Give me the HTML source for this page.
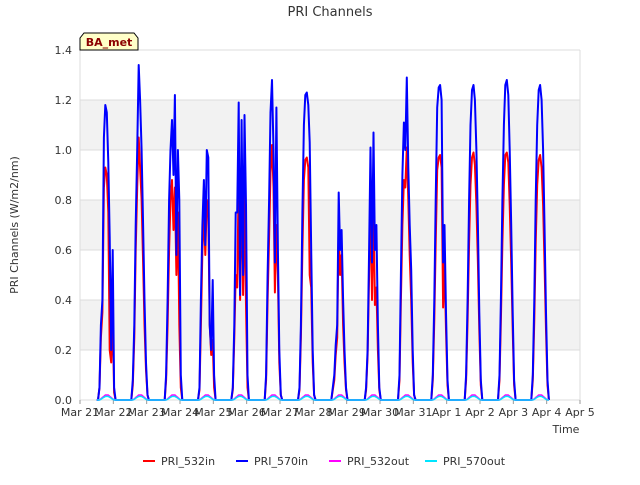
<!DOCTYPE html>
<html><head><meta charset="utf-8"><style>
body{margin:0;background:#fff;font-family:"Liberation Sans","DejaVu Sans",sans-serif}
</style></head><body>
<svg id="chart" width="640" height="480" xmlns="http://www.w3.org/2000/svg" font-family="DejaVu Sans, Liberation Sans, sans-serif">
<text x="330" y="16" text-anchor="middle" font-size="13" fill="#333">PRI Channels</text>
<g id="plot"></g>
<text transform="translate(18,225) rotate(-90)" text-anchor="middle" font-size="11" fill="#333">PRI Channels (W/m2/nm)</text>
<text x="566" y="433" text-anchor="middle" font-size="11" fill="#333">Time</text>
<g>
<path d="M80,50 L80,38 L84,33 L134,33 L138,38 L138,50 Z" fill="#ffffc8" stroke="#000" stroke-width="1"/>
<text x="109" y="46" text-anchor="middle" font-size="11" font-weight="bold" fill="#8b0000">BA_met</text>
</g>
<g id="legend"></g>
</svg>
<script>
const tickLabels=["Mar 21","Mar 22","Mar 23","Mar 24","Mar 25","Mar 26","Mar 27","Mar 28","Mar 29","Mar 30","Mar 31","Apr 1","Apr 2","Apr 3","Apr 4","Apr 5"];
const yTicks=[0,0.2,0.4,0.6,0.8,1.0,1.2,1.4];
const blueDays=[
[0,0.05,0.3,0.4,1.05,1.18,1.15,0.95,0.65,0.2,0.6,0.05,0],
[0,0.08,0.3,0.7,1.0,1.34,1.2,1.0,0.7,0.4,0.15,0.02,0],
[0,0.1,0.4,0.8,1.0,1.12,0.9,1.22,0.58,1.0,0.8,0.1,0],
[0,0.05,0.4,0.7,0.88,0.62,1.0,0.97,0.3,0.2,0.48,0.1,0],
[0,0.05,0.3,0.75,0.75,1.19,0.42,1.12,0.5,1.14,0.78,0.1,0],
[0,0.1,0.5,0.8,1.15,1.28,1.0,0.55,1.17,0.6,0.2,0.02,0],
[0,0.05,0.3,0.75,1.1,1.22,1.23,1.18,1.03,0.6,0.2,0.02,0],
[0,0.05,0.1,0.22,0.3,0.83,0.6,0.68,0.4,0.2,0.05,0,0],
[0,0.05,0.2,0.6,1.01,0.55,1.07,0.6,0.7,0.3,0.05,0,0],
[0,0.1,0.5,0.9,1.11,1.0,1.29,0.93,0.7,0.52,0.2,0.02,0],
[0,0.1,0.4,0.8,1.17,1.25,1.26,1.2,0.55,0.7,0.35,0.08,0],
[0,0.1,0.4,0.8,1.1,1.24,1.26,1.2,1.0,0.7,0.35,0.08,0],
[0,0.1,0.4,0.8,1.1,1.26,1.28,1.22,1.0,0.7,0.35,0.08,0],
[0,0.1,0.4,0.8,1.1,1.24,1.26,1.2,1.0,0.7,0.35,0.08,0]];
const redDays=[
[0,0.05,0.25,0.35,0.85,0.93,0.9,0.75,0.2,0.15,0.35,0.03,0],
[0,0.06,0.25,0.6,0.85,1.05,0.93,0.8,0.55,0.3,0.12,0.02,0],
[0,0.08,0.3,0.6,0.8,0.88,0.68,0.85,0.5,0.75,0.3,0.05,0],
[0,0.04,0.3,0.6,0.75,0.58,0.8,0.75,0.3,0.18,0.24,0.05,0],
[0,0.04,0.25,0.5,0.45,0.88,0.4,0.9,0.42,0.85,0.38,0.05,0],
[0,0.08,0.4,0.65,0.91,1.02,0.85,0.43,0.7,0.5,0.15,0.02,0],
[0,0.04,0.25,0.6,0.88,0.96,0.97,0.93,0.5,0.45,0.15,0.02,0],
[0,0.04,0.08,0.18,0.25,0.7,0.5,0.58,0.3,0.15,0.04,0,0],
[0,0.04,0.18,0.5,0.8,0.4,0.8,0.38,0.45,0.2,0.04,0,0],
[0,0.08,0.4,0.7,0.88,0.85,1.01,0.8,0.58,0.4,0.15,0.02,0],
[0,0.08,0.32,0.63,0.92,0.97,0.98,0.93,0.37,0.55,0.28,0.06,0],
[0,0.08,0.32,0.63,0.86,0.97,0.99,0.94,0.78,0.55,0.28,0.06,0],
[0,0.08,0.32,0.63,0.86,0.98,0.99,0.95,0.78,0.55,0.28,0.06,0],
[0,0.08,0.32,0.63,0.86,0.96,0.98,0.93,0.78,0.55,0.28,0.06,0]];
const magentaDays=[
[0,0,0.005,0.01,0.015,0.02,0.02,0.02,0.015,0.01,0.005,0,0]];
const cyanDays=[
[0,0,0.003,0.007,0.011,0.014,0.015,0.014,0.011,0.007,0.003,0,0]];
const NS="http://www.w3.org/2000/svg";
const X0=80,X1=580,Y0=400,Y1=50;
const xs=d=>X0+(d/15)*(X1-X0);
const ys=v=>Y0-(v/1.4)*(Y0-Y1);
const plot=document.getElementById('plot');
function mk(tag,attrs,parent){const e=document.createElementNS(NS,tag);for(const k in attrs)e.setAttribute(k,attrs[k]);(parent||plot).appendChild(e);return e;}
mk('rect',{x:X0,y:Y1,width:X1-X0,height:Y0-Y1,fill:'#fff'});
for(let i=0;i<yTicks.length-1;i++){if(i%2===1){const b=mk('rect',{x:X0,y:ys(yTicks[i+1]),width:X1-X0,height:ys(yTicks[i])-ys(yTicks[i+1]),fill:'#f2f2f2'});

}}
yTicks.forEach(v=>{const l=mk('line',{x1:X0,x2:X1,y1:ys(v),y2:ys(v),stroke:'#dcdcdc','stroke-width':1});


const t=mk('text',{x:X0-8,y:ys(v)+4,'text-anchor':'end','font-size':11,fill:'#333'});t.textContent=v.toFixed(1);

});
mk('line',{x1:X0,x2:X0,y1:Y1,y2:Y0,stroke:'#dcdcdc'});
mk('line',{x1:X1,x2:X1,y1:Y1,y2:Y0,stroke:'#dcdcdc'});
tickLabels.forEach((s,i)=>{mk('line',{x1:xs(i),x2:xs(i),y1:Y0,y2:Y0+4,stroke:'#999'});
const t=mk('text',{x:xs(i),y:Y0+16,'text-anchor':'middle','font-size':11,fill:'#333'});t.textContent=s;

});
function series(days,color,w,name,shared){
 let pts=[];
 const n=shared?14:days.length;
 pts.push([xs(0.5),ys(0)]);
 for(let d=0;d<n;d++){const arr=shared?days[0]:days[d];arr.forEach((v,k)=>pts.push([xs(d+0.54+k*0.044),ys(v)]));}
 const p=mk('polyline',{points:pts.map(p=>p[0].toFixed(1)+','+p[1].toFixed(1)).join(' '),fill:'none',stroke:color,'stroke-width':w,'stroke-linejoin':'round'});
 
 
}
series(redDays,'#ff0000',2,'series-pri-532in');
series(blueDays,'#0000ff',2,'series-pri-570in');
series(magentaDays,'#ff00ff',1.5,'series-pri-532out',true);
series(cyanDays,'#00e5ff',1.5,'series-pri-570out',true);
const leg=document.getElementById('legend');
[["PRI_532in","#ff0000",143],["PRI_570in","#0000ff",236],["PRI_532out","#ff00ff",329],["PRI_570out","#00e5ff",425]].forEach(([s,c,x])=>{
 const g=mk('g',{},leg);
 
 
 mk('line',{x1:x,x2:x+12,y1:461,y2:461,stroke:c,'stroke-width':2},g);
 const t=mk('text',{x:x+18,y:465,'font-size':11,fill:'#333'},g);t.textContent=s;
});
</script>
</body></html>
